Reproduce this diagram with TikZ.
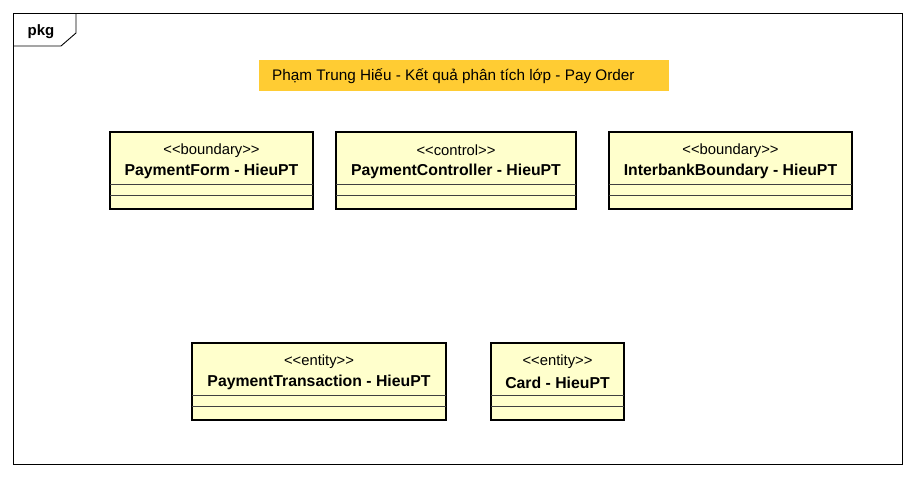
\documentclass[tikz,border=0pt]{standalone}
\usepackage{fontspec}
\setmainfont{Liberation Sans}
\definecolor{classfill}{HTML}{FFFFCC}
\definecolor{notefill}{HTML}{FFCC33}
\tikzset{
  frameline/.style={draw=black, line width=0.9pt},
  classbox/.style={draw=black, fill=classfill, line width=2.8pt},
  sepline/.style={draw=black!75, line width=1pt},
  stereo/.style={font=\fontsize{14.8}{16}\selectfont, inner sep=0pt},
  clsname/.style={font=\fontsize{15.8}{17}\selectfont\bfseries, inner sep=0pt}
}
% class box: name, left, top, right, bottom, stereotype, title
\newcommand{\umlclass}[7]{%
  \draw[classbox] (#2,#3) rectangle (#4,#5);
  \node[stereo] (#1-st) at ({(#2+#4)/2},#3+18.5) {<\kern0pt<#6>\kern0pt>};
  \node[clsname] (#1) at ({(#2+#4)/2},#3+39.5) {#7};
  \draw[sepline] (#2,#3+52) -- (#4,#3+52);
  \draw[sepline] (#2,#3+63) -- (#4,#3+63);
}
\begin{document}
\begin{tikzpicture}[x=1pt,y=-1pt]
\useasboundingbox (0,0) rectangle (916,477);
% Draw package frame
\draw[frameline] (13,13) rectangle (902,464);
\draw[frameline] (13,46) -- (61,46) -- (76,33) -- (76,13);
\node[font=\fontsize{15}{16}\selectfont\bfseries, inner sep=0pt] (pkg) at (41,31.5) {pkg};
% Draw title note
\fill[notefill] (259,60) rectangle (669,91);
\node[font=\fontsize{15.3}{17}\selectfont, anchor=west, inner sep=0pt] (title) at (272,76.5)
  {Phạm Trung Hiếu - Kết quả phân tích lớp - Pay Order};
% Draw classes
\umlclass{form}{110}{132}{313}{209}{boundary}{PaymentForm - HieuPT}
\umlclass{ctrl}{336}{132}{576}{209}{control}{PaymentController - HieuPT}
\umlclass{bank}{609}{132}{852}{209}{boundary}{InterbankBoundary - HieuPT}
\umlclass{trans}{192}{343}{446}{420}{entity}{PaymentTransaction - HieuPT}
\umlclass{card}{491}{343}{624}{420}{entity}{Card - HieuPT}
\end{tikzpicture}
\end{document}
